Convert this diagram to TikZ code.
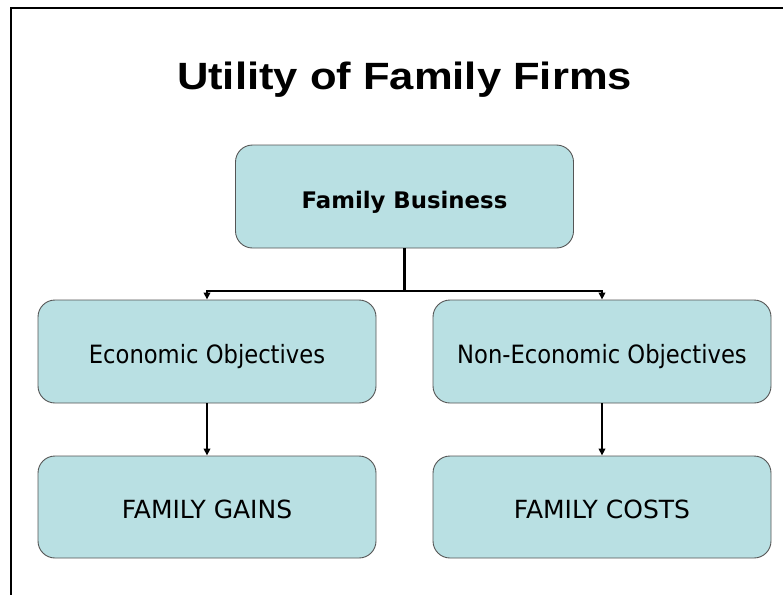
\documentclass[tikz,border=0pt]{standalone}
\usepackage{fontspec}
\setmainfont{Liberation Sans}
\newfontfamily\boxfont{DejaVu Sans Condensed}
\newfontfamily\capsfont{DejaVu Sans}
\usetikzlibrary{arrows.meta}
\definecolor{boxfill}{HTML}{B9E0E3}
\definecolor{boxline}{HTML}{555555}
\tikzset{
  objbox/.style={draw=boxline, line width=0.9pt, fill=boxfill, rounded corners=17pt,
    minimum width=338pt, minimum height=103pt, inner sep=0pt, text=black,
    text height=23pt, text depth=0pt},
  lowtext/.style={font=\boxfont\fontsize{25.2}{28}\selectfont},
  captext/.style={font=\capsfont\fontsize{25}{28}\selectfont},
  boldtext/.style={font=\capsfont\bfseries\fontsize{22.8}{26}\selectfont},
  conn/.style={line width=2.4pt, black},
  arr/.style={line width=1.8pt, black, -{Triangle[length=7pt,width=6.5pt]}},
  frameline/.style={line width=2pt, black}
}
\begin{document}
\begin{tikzpicture}[x=1pt,y=-1pt]
\useasboundingbox (0,0) rectangle (783,595);
\coordinate (ftl) at (11,7.5);
\coordinate (ftr) at (783,7.5);
\coordinate (fbl) at (11,595);
\draw[frameline] (ftr) -- (ftl) -- (fbl);
\node[anchor=base, inner sep=0pt] (title) at (404.5,89.5) {\scalebox{1.146}[1]{\fontsize{38}{40}\selectfont\bfseries Utility of Family Firms}};
\node[objbox, boldtext] (fb) at (404.5,196.5) {Family Business};
\node[objbox, lowtext] (eco) at (207,351.5) {Economic Objectives};
\node[objbox, lowtext] (neco) at (602,351.5) {Non-Economic Objectives};
\node[objbox, minimum height=102pt, captext] (gains) at (207,507) {FAMILY GAINS};
\node[objbox, minimum height=102pt, captext] (costs) at (602,507) {FAMILY COSTS};
\coordinate (j) at (404.5,291);
\draw[conn] (fb.south) -- (j);
\draw[arr] (j) -| (eco.north);
\draw[arr] (j) -| (neco.north);
\draw[arr] (eco.south) -- (gains.north);
\draw[arr] (neco.south) -- (costs.north);
\end{tikzpicture}
\end{document}
